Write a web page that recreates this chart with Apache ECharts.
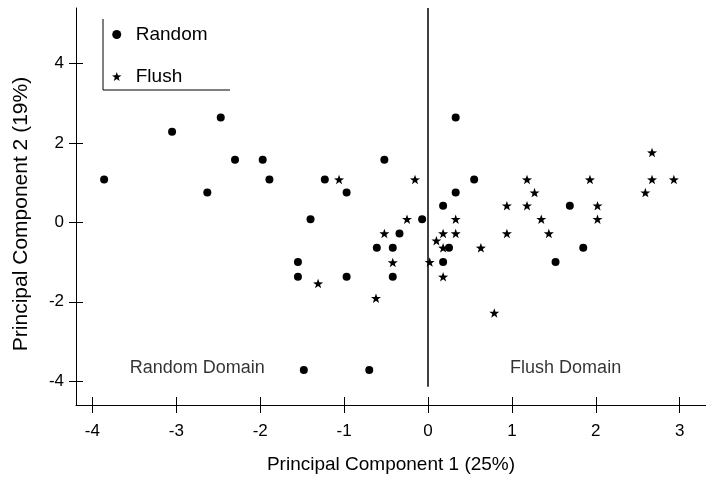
<!DOCTYPE html>
<html><head><meta charset="utf-8">
<script src="https://cdn.jsdelivr.net/npm/echarts@6/dist/echarts.min.js"></script>
<style>html,body{margin:0;padding:0;background:#fff}#c{width:706px;height:483px}</style>
</head><body><div id="c"></div>
<script>
// ---- data ----
const seriesNames = ['Random', 'Flush'];
const randomX = [-3.86,-3.05,-2.47,-2.63,-2.30,-1.97,-1.89,-1.23,-0.97,-0.52,-1.40,-0.34,-0.61,-0.42,-1.55,-1.55,-0.97,-0.42,-1.48,-0.70,0.33,0.55,0.33,0.18,-0.07,0.25,0.18,1.69,1.85,1.52];
const randomY = [1.08,2.28,2.64,0.75,1.58,1.58,1.08,1.08,0.75,1.58,0.08,-0.28,-0.64,-0.64,-1.00,-1.37,-1.37,-1.37,-3.72,-3.72,2.64,1.08,0.75,0.42,0.08,-0.64,-1.00,0.42,-0.64,-1.00];
const flushX = [-1.06,-0.52,-0.42,-1.31,-0.62,-0.155,-0.25,0.33,0.18,0.33,0.10,0.18,0.02,0.63,0.18,0.79,0.94,0.94,1.18,1.18,1.27,1.35,1.44,1.93,2.02,2.02,2.67,2.67,2.93,2.59];
const flushY = [1.08,-0.28,-1.01,-1.54,-1.91,1.08,0.08,0.08,-0.28,-0.28,-0.46,-0.64,-1.00,-0.64,-1.37,-2.28,0.42,-0.28,1.08,0.42,0.75,0.08,-0.28,1.08,0.42,0.08,1.76,1.08,1.08,0.75];
const xTicks = [-4,-3,-2,-1,0,1,2,3];
const yTicks = [-4,-2,0,2,4];
const xTitle = 'Principal Component 1 (25%)';
const yTitle = 'Principal Component 2 (19%)';
const domainLabels = ['Random Domain', 'Flush Domain'];
const domainX = [-2.75, 1.64];
const domainY = [-3.66, -3.66];
const zeroLineX = [0, 0];
const zeroLineY = [5.4, -4.14];
// ---- chart ----
const FONT = 'Liberation Sans';
const STAR = 'path://M10 0 L12.35 6.76 L19.51 6.91 L13.8 11.24 L15.88 18.09 L10 14 L4.12 18.09 L6.2 11.24 L0.49 6.91 L7.65 6.76 Z';
const zip = (a, b) => a.map((v, i) => [v, b[i]]);
const X_MIN = -4.195, X_MAX = 3.313, Y_MIN = -4.6, Y_MAX = 5.4;
const gridBox = {left: 76, right: 0, top: 8, bottom: 78, containLabel: false};
const chart = echarts.init(document.getElementById('c'), null, {renderer: 'canvas'});
chart.setOption({
  animation: false,
  backgroundColor: '#fff',
  textStyle: {fontFamily: FONT, color: '#000'},
  grid: [Object.assign({}, gridBox), Object.assign({}, gridBox)],
  legend: {
    orient: 'vertical', left: 107, top: 20, itemGap: 23,
    itemWidth: 28, itemHeight: 9, symbolKeepAspect: true,
    textStyle: {fontFamily: FONT, fontSize: 19, color: '#000'},
    data: [{name: seriesNames[0], icon: 'circle'}, {name: seriesNames[1], icon: STAR}]
  },
  xAxis: [{
    gridIndex: 0, type: 'value', min: X_MIN, max: X_MAX,
    splitLine: {show: false},
    axisLine: {onZero: false, lineStyle: {color: '#000', width: 1}},
    axisTick: {show: true, length: 8, customValues: xTicks, lineStyle: {color: '#000'}},
    axisLabel: {customValues: xTicks, margin: 18, fontSize: 17, color: '#000', fontFamily: FONT},
    name: xTitle, nameLocation: 'middle', nameGap: 50,
    nameTextStyle: {fontSize: 19, color: '#000', fontFamily: FONT}
  }, {
    gridIndex: 1, type: 'value', min: X_MIN, max: X_MAX,
    splitLine: {show: false}, axisLine: {show: false, onZero: false},
    axisTick: {show: true, inside: true, length: 8, customValues: xTicks, lineStyle: {color: '#000'}},
    axisLabel: {show: false}
  }],
  yAxis: [{
    gridIndex: 0, type: 'value', min: Y_MIN, max: Y_MAX,
    splitLine: {show: false},
    axisLine: {onZero: false, lineStyle: {color: '#000', width: 1}},
    axisTick: {show: true, length: 7, customValues: yTicks, lineStyle: {color: '#000'}},
    axisLabel: {customValues: yTicks, margin: 12, fontSize: 17, color: '#000', fontFamily: FONT},
    name: yTitle, nameLocation: 'middle', nameGap: 44, nameRotate: 90,
    nameTextStyle: {fontSize: 21, color: '#000', fontFamily: FONT, padding: [0, 15, 0, 0]}
  }, {
    gridIndex: 1, type: 'value', min: Y_MIN, max: Y_MAX,
    splitLine: {show: false}, axisLine: {show: false, onZero: false},
    axisTick: {show: true, inside: true, length: 7, customValues: yTicks, lineStyle: {color: '#000'}},
    axisLabel: {show: false}
  }],
  graphic: [{
    type: 'polyline', silent: true,
    shape: {points: [[103, 19], [103, 90], [230, 90]]},
    style: {stroke: '#000', lineWidth: 1, fill: null}
  }],
  series: [
    {
      name: 'zero', type: 'line', xAxisIndex: 0, yAxisIndex: 0,
      data: zip(zeroLineX, zeroLineY), symbol: 'none',
      lineStyle: {color: '#000', width: 1.5}, silent: true, z: 1
    },
    {
      name: seriesNames[0], type: 'scatter', data: zip(randomX, randomY),
      symbol: 'circle', symbolSize: 8, itemStyle: {color: '#000', opacity: 1}, z: 3
    },
    {
      name: seriesNames[1], type: 'scatter', data: zip(flushX, flushY),
      symbol: STAR, symbolSize: 10, symbolKeepAspect: true, itemStyle: {color: '#000', opacity: 1}, z: 3
    },
    {
      name: 'domains', type: 'scatter', symbolSize: 0, silent: true,
      data: zip(domainX, domainY).map((p, i) => ({value: p, label: {formatter: domainLabels[i]}})),
      label: {show: true, position: 'inside', fontSize: 18, color: '#000', fontFamily: FONT}
    }
  ]
});
</script></body></html>
